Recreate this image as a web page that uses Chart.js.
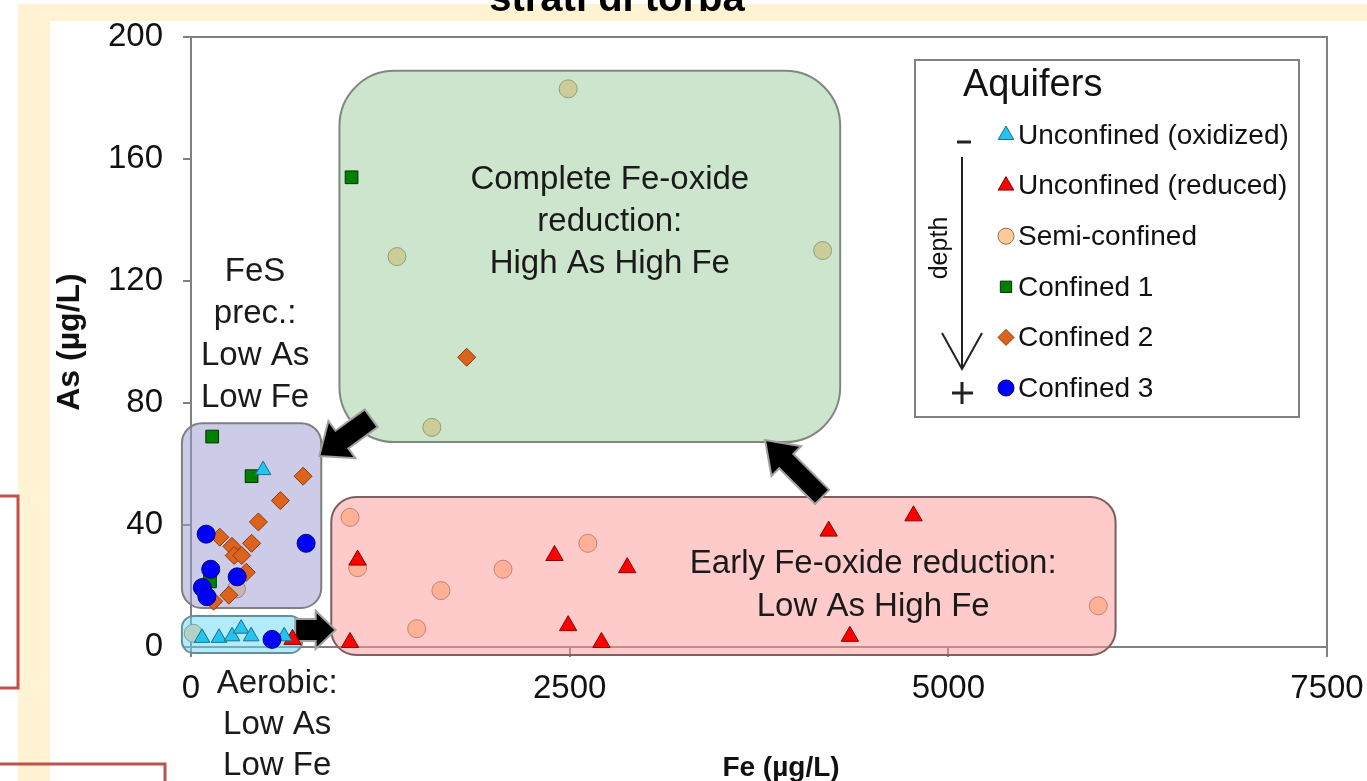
<!DOCTYPE html>
<html>
<head>
<meta charset="utf-8">
<script src="https://cdn.jsdelivr.net/npm/chart.js@4.4.0/dist/chart.umd.min.js"></script>
<style>
  html, body { margin: 0; padding: 0; background: #fff; }
  canvas { display: block; }
</style>
</head>
<body>
<canvas id="chart" width="1367" height="781"></canvas>
<script>
// Fe (µg/L) and As (µg/L) for each aquifer group
var unconfinedOxFe = [476, 73, 185, 271, 331, 397, 615];
var unconfinedOxAs = [58, 3, 3, 3.5, 6, 3.5, 3.5];

var unconfinedRedFe = [1100, 1050, 2400, 2880, 2490, 2710, 4210, 4770, 4350, 670];
var unconfinedRedAs = [28.5, 1.5, 30, 26, 7, 1.5, 38, 43, 3.5, 2.5];

var semiConfinedFe = [2490, 1360, 4170, 1590, 1050, 1100, 1650, 1490, 2060, 2620, 5990, 15, 300];
var semiConfinedAs = [183, 128, 130, 72, 42.5, 26, 18.5, 6, 25.5, 34, 13.5, 4.5, 19];

var confined1Fe = [1060, 140, 400, 125];
var confined1As = [154, 69, 56, 21.5];

var confined2Fe = [1820, 740, 590, 445, 190, 400, 270, 285, 335, 365, 250, 150];
var confined2As = [95, 56, 48, 41, 36, 34, 33, 30, 30, 24.5, 17, 15];

var confined3Fe = [100, 760, 130, 305, 75, 105, 535];
var confined3As = [37, 34, 25.5, 23, 19.5, 16.5, 2.5];

var xTicks = [0, 2500, 5000, 7500];
var yTicks = [0, 40, 80, 120, 160, 200];

var FONT = "'Liberation Sans', Arial, sans-serif";

function pts(fe, as) {
  return fe.map(function(v, i) { return {x: v, y: as[i]}; });
}

// shaded process zones, in data units
var zones = [
  {fe: [980, 4286], as: [67.2, 188.9], r: 55, fill: 'rgba(153,203,153,0.5)', line: '#7f8a7f'},
  {fe: [926, 6104], as: [-2.6, 49.2], r: 25, fill: 'rgba(255,150,150,0.5)', line: '#7a6060'},
  {fe: [-60, 860], as: [12.8, 73.4], r: 20, fill: 'rgba(153,153,209,0.5)', line: '#808080'},
  {fe: [-60, 734], as: [-2, 10.2], r: 12, fill: 'rgba(101,215,245,0.5)', line: '#6a8c96'}
];

var arrows = [
  {from: [1190, 75], to: [847, 62.6], shaft: 22, head: 46, len: 28},
  {from: [4167, 49.2], to: [3790, 67.9], shaft: 20, head: 42, len: 30},
  {from: [688, 5.6], to: [955, 5.6], shaft: 22, head: 38, len: 20}
];

var notes = [
  {lines: ['Complete Fe-oxide', 'reduction:', 'High As High Fe'], fe: 2765, as: 139.3, lh: 42},
  {lines: ['Early Fe-oxide reduction:', 'Low As High Fe'], fe: 4504, as: 20.3, lh: 43},
  {lines: ['FeS', 'prec.:', 'Low As', 'Low Fe'], fe: 423, as: 102.3, lh: 42},
  {lines: ['Aerobic:', 'Low As', 'Low Fe'], fe: 569, as: -25.5, lh: 41}
];

function roundRect(ctx, x0, y0, x1, y1, r) {
  ctx.beginPath();
  ctx.moveTo(x0 + r, y0);
  ctx.arcTo(x1, y0, x1, y1, r);
  ctx.arcTo(x1, y1, x0, y1, r);
  ctx.arcTo(x0, y1, x0, y0, r);
  ctx.arcTo(x0, y0, x1, y0, r);
  ctx.closePath();
}

function blockArrow(ctx, tx, ty, px, py, shaft, head, headLen) {
  var dx = px - tx, dy = py - ty, len = Math.hypot(dx, dy);
  var ux = dx / len, uy = dy / len, nx = -uy, ny = ux;
  var bx = px - ux * headLen, by = py - uy * headLen;
  ctx.beginPath();
  ctx.moveTo(tx + nx * shaft / 2, ty + ny * shaft / 2);
  ctx.lineTo(bx + nx * shaft / 2, by + ny * shaft / 2);
  ctx.lineTo(bx + nx * head / 2, by + ny * head / 2);
  ctx.lineTo(px, py);
  ctx.lineTo(bx - nx * head / 2, by - ny * head / 2);
  ctx.lineTo(bx - nx * shaft / 2, by - ny * shaft / 2);
  ctx.lineTo(tx - nx * shaft / 2, ty - ny * shaft / 2);
  ctx.closePath();
  ctx.fillStyle = '#000';
  ctx.fill();
  ctx.strokeStyle = '#a0a0a0';
  ctx.lineWidth = 2;
  ctx.stroke();
}

var slidePlugin = {
  id: 'slide',
  beforeDraw: function(chart) {
    var ctx = chart.ctx;
    ctx.save();
    ctx.fillStyle = '#fff';
    ctx.fillRect(0, 0, chart.width, chart.height);
    ctx.fillStyle = '#FFF3D3';
    ctx.fillRect(18, 4, chart.width - 18, 17);
    ctx.fillRect(18, 4, 32, chart.height - 4);
    ctx.fillStyle = '#000';
    ctx.font = 'bold 40px ' + FONT;
    ctx.textAlign = 'center';
    ctx.textBaseline = 'alphabetic';
    ctx.fillText('strati di torba', 617, 11);
    ctx.restore();
  },
  beforeDatasetsDraw: function(chart) {
    var a = chart.chartArea, ctx = chart.ctx;
    ctx.save();
    ctx.strokeStyle = '#808080';
    ctx.lineWidth = 2;
    ctx.strokeRect(a.left, a.top, a.right - a.left, a.bottom - a.top);
    ctx.restore();
  },
  afterDatasetDraw: function(chart, args) {
    // zones go over the semi-confined points only
    if (args.index !== 2) return;
    var ctx = chart.ctx, xs = chart.scales.x, ys = chart.scales.y;
    ctx.save();
    zones.forEach(function(z) {
      var x0 = xs.getPixelForValue(z.fe[0]), x1 = xs.getPixelForValue(z.fe[1]);
      var y0 = ys.getPixelForValue(z.as[1]), y1 = ys.getPixelForValue(z.as[0]);
      roundRect(ctx, x0, y0, x1, y1, z.r);
      ctx.fillStyle = z.fill;
      ctx.fill();
      ctx.strokeStyle = z.line;
      ctx.lineWidth = 2;
      ctx.stroke();
    });
    arrows.forEach(function(ar) {
      blockArrow(ctx,
        xs.getPixelForValue(ar.from[0]), ys.getPixelForValue(ar.from[1]),
        xs.getPixelForValue(ar.to[0]), ys.getPixelForValue(ar.to[1]),
        ar.shaft, ar.head, ar.len);
    });
    ctx.restore();
  },
  afterDatasetsDraw: function(chart) {
    var ctx = chart.ctx, xs = chart.scales.x, ys = chart.scales.y;
    ctx.save();
    ctx.fillStyle = '#1a1a1a';
    ctx.font = '33px ' + FONT;
    ctx.textAlign = 'center';
    ctx.textBaseline = 'middle';
    notes.forEach(function(n) {
      var cx = xs.getPixelForValue(n.fe), cy = ys.getPixelForValue(n.as);
      var top = cy - (n.lines.length - 1) * n.lh / 2;
      n.lines.forEach(function(t, i) { ctx.fillText(t, cx, top + i * n.lh); });
    });
    // x axis title sits right of the plot centre in the original
    ctx.fillStyle = '#111';
    ctx.font = 'bold 28px ' + FONT;
    ctx.fillText('Fe (µg/L)', 781, 768);
    ctx.restore();
  },
  afterDraw: function(chart) {
    var ctx = chart.ctx;
    ctx.save();
    // legend
    var lx0 = 915, ly0 = 60, lx1 = 1299, ly1 = 417;
    ctx.fillStyle = '#fff';
    ctx.fillRect(lx0, ly0, lx1 - lx0, ly1 - ly0);
    ctx.strokeStyle = '#808080';
    ctx.lineWidth = 2;
    ctx.strokeRect(lx0, ly0, lx1 - lx0, ly1 - ly0);
    ctx.fillStyle = '#111';
    ctx.font = '38px ' + FONT;
    ctx.textAlign = 'left';
    ctx.textBaseline = 'middle';
    ctx.fillText('Aquifers', 963, 86);
    ctx.font = '28px ' + FONT;
    chart.data.datasets.forEach(function(ds, i) {
      var y = 135 + i * 50.6;
      if (Chart.helpers && Chart.helpers.drawPoint) {
        ctx.fillStyle = ds.backgroundColor;
        ctx.strokeStyle = ds.borderColor;
        ctx.lineWidth = 1;
        Chart.helpers.drawPoint(ctx, {pointStyle: ds.pointStyle, radius: ds.legendRadius, rotation: 0, borderWidth: 1}, 1006, y);
      }
      ctx.fillStyle = '#111';
      ctx.fillText(ds.label, 1018, y + 1);
    });
    // depth arrow
    ctx.strokeStyle = '#222';
    ctx.lineWidth = 2;
    ctx.beginPath();
    ctx.moveTo(962, 157); ctx.lineTo(962, 369);
    ctx.moveTo(942, 333); ctx.lineTo(962, 369); ctx.lineTo(982, 333);
    ctx.stroke();
    ctx.lineWidth = 3;
    ctx.beginPath();
    ctx.moveTo(957, 142); ctx.lineTo(971, 142);
    ctx.moveTo(952, 393); ctx.lineTo(973, 393);
    ctx.moveTo(962, 382); ctx.lineTo(962, 404);
    ctx.stroke();
    ctx.translate(940, 248);
    ctx.rotate(-Math.PI / 2);
    ctx.fillStyle = '#111';
    ctx.font = '25px ' + FONT;
    ctx.textAlign = 'center';
    ctx.fillText('depth', 0, 0);
    ctx.setTransform(1, 0, 0, 1, 0, 0);
    // slide frames
    ctx.strokeStyle = '#C0504D';
    ctx.lineWidth = 3;
    ctx.strokeRect(-10, 496, 28, 192);
    ctx.strokeRect(-10, 764, 175, 40);
    ctx.restore();
  }
};

new Chart(document.getElementById('chart'), {
  type: 'scatter',
  data: {
    datasets: [
      {label: 'Unconfined (oxidized)', data: pts(unconfinedOxFe, unconfinedOxAs), pointStyle: 'triangle',
       backgroundColor: '#22C4F0', borderColor: '#1E6E8C', pointRadius: 9, legendRadius: 9, order: 0},
      {label: 'Unconfined (reduced)', data: pts(unconfinedRedFe, unconfinedRedAs), pointStyle: 'triangle',
       backgroundColor: '#FF0000', borderColor: '#8B0000', pointRadius: 10, legendRadius: 9, order: 0},
      {label: 'Semi-confined', data: pts(semiConfinedFe, semiConfinedAs), pointStyle: 'circle',
       backgroundColor: '#FFCC99', borderColor: '#8C6E55', pointRadius: 9, legendRadius: 8, order: 1},
      {label: 'Confined 1', data: pts(confined1Fe, confined1As), pointStyle: 'rect',
       backgroundColor: '#008000', borderColor: '#003300', pointRadius: 9, legendRadius: 8, order: 0},
      {label: 'Confined 2', data: pts(confined2Fe, confined2As), pointStyle: 'rectRot',
       backgroundColor: '#DC631C', borderColor: '#8A3A10', pointRadius: 9, legendRadius: 8, order: 0},
      {label: 'Confined 3', data: pts(confined3Fe, confined3As), pointStyle: 'circle',
       backgroundColor: '#0000FF', borderColor: '#00007A', pointRadius: 9, legendRadius: 8, order: -1}
    ]
  },
  options: {
    responsive: false,
    animation: false,
    layout: {padding: {left: 0, top: 37, right: 40, bottom: 0}},
    elements: {point: {borderWidth: 1, hoverRadius: 9}},
    datasets: {scatter: {clip: false}},
    plugins: {legend: {display: false}, tooltip: {enabled: false}},
    scales: {
      x: {
        type: 'linear', min: 0, max: 7500,
        afterBuildTicks: function(s) { s.ticks = xTicks.map(function(v) { return {value: v}; }); },
        afterFit: function(s) { s.height = 134; s.paddingLeft = 0; s.paddingRight = 0; },
        grid: {drawOnChartArea: false, drawTicks: true, tickLength: 10, color: '#808080', lineWidth: 2},
        border: {display: true, color: '#808080', width: 2},
        ticks: {color: '#111', font: {family: FONT, size: 33}, padding: 12, maxRotation: 0, autoSkip: false,
                callback: function(v) { return String(v); }},
        title: {display: false}
      },
      y: {
        type: 'linear', min: 0, max: 200,
        afterBuildTicks: function(s) { s.ticks = yTicks.map(function(v) { return {value: v}; }); },
        afterFit: function(s) { s.width = 191; s.paddingTop = 0; s.paddingBottom = 0; },
        grid: {drawOnChartArea: false, drawTicks: true, tickLength: 8, color: '#808080', lineWidth: 2},
        border: {display: true, color: '#808080', width: 2},
        ticks: {color: '#111', font: {family: FONT, size: 33}, padding: 20, autoSkip: false,
                callback: function(v) { return String(v); }},
        title: {display: true, text: 'As (µg/L)', color: '#111', font: {family: FONT, size: 32, weight: 'bold'}, padding: {top: 51, bottom: 0}}
      }
    }
  },
  plugins: [slidePlugin]
});
</script>
</body>
</html>
